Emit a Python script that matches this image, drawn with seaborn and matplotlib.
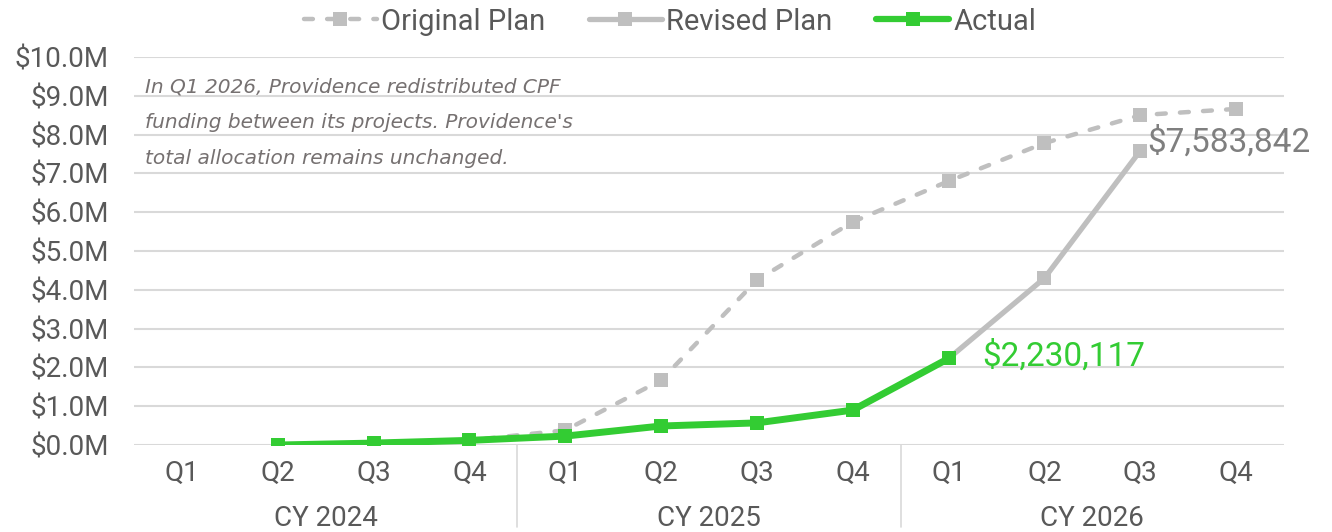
import matplotlib
matplotlib.use("Agg")
import matplotlib.pyplot as plt
import matplotlib.transforms as mtransforms
from matplotlib.lines import Line2D
import seaborn as sns
import pandas as pd
import numpy as np

# Data (values in $M)
quarters = ["Q1", "Q2", "Q3", "Q4"] * 3
years = ["CY 2024", "CY 2025", "CY 2026"]
original_plan = [np.nan, 0.0, 0.05, 0.12, 0.38, 1.67, 4.25, 5.75, 6.80, 7.78, 8.50, 8.66]
revised_plan = [np.nan, 0.0, 0.05, 0.12, 0.23, 0.49, 0.57, 0.90, 2.230117, 4.30, 7.583842, np.nan]
actual = [np.nan, 0.0, 0.05, 0.12, 0.23, 0.49, 0.57, 0.90, 2.230117, np.nan, np.nan, np.nan]

df = pd.DataFrame({
    "idx": np.arange(len(quarters)),
    "Original Plan": original_plan,
    "Revised Plan": revised_plan,
    "Actual": actual,
})

sns.set_theme(style="white")
plt.rcParams["font.family"] = ["Roboto", "DejaVu Sans"]

TXT = "#595959"
GRAY = "#BFBFBF"
GREEN = "#33CC33"
FS = 20

fig = plt.figure(figsize=(13.32, 5.32), dpi=100)
ax = fig.add_axes([0.1006, 0.1635, 0.8634, 0.7295])

sns.lineplot(data=df, x="idx", y="Original Plan", ax=ax, color=GRAY,
             marker="s", markersize=10.5, markeredgewidth=0, zorder=2)
ln = ax.lines[-1]
ln.set_linewidth(3.2)
ln.set_dashes([2.0, 3.2])
ln.set_dash_capstyle("round")
sns.lineplot(data=df, x="idx", y="Revised Plan", ax=ax, color=GRAY,
             marker="s", markersize=10.5, markeredgewidth=0, zorder=3)
ax.lines[-1].set_linewidth(3.8)
sns.lineplot(data=df, x="idx", y="Actual", ax=ax, color=GREEN,
             marker="s", markersize=10.5, markeredgewidth=0, zorder=4)
ax.lines[-1].set_linewidth(5)

ax.set_xlim(-0.5, len(quarters) - 0.5)
ax.set_ylim(0, 10)
ax.set_yticks(np.arange(0, 11, 1))
ax.set_yticklabels([f"${v:.1f}M" for v in range(11)], color=TXT, fontsize=FS)
ax.set_xticks(df["idx"])
ax.set_xticklabels(quarters, color=TXT, fontsize=FS)
ax.tick_params(axis="x", length=0, pad=11)
ax.tick_params(axis="y", length=0, pad=18)
ax.grid(axis="y", color="#D9D9D9", lw=1.5)
ax.set_axisbelow(True)
for s in ax.spines.values():
    s.set_visible(False)
ax.set_xlabel("")
ax.set_ylabel("")

# year group labels and separators
trans = mtransforms.blended_transform_factory(ax.transData, ax.transAxes)
for i, yr in enumerate(years):
    ax.text(i * 4 + 1.5, -0.19, yr, transform=trans, ha="center", va="center",
            color=TXT, fontsize=FS)
for x in [3.5, 7.5]:
    ax.add_line(Line2D([x, x], [0, -0.21], transform=trans, color="#D9D9D9",
                       lw=1.2, clip_on=False))

# data labels
ax.annotate("$2,230,117", (8, actual[8]), xytext=(24, -5), textcoords="offset points",
            ha="left", va="baseline", color=GREEN, fontsize=24)
ax.annotate("$7,583,842", (10, revised_plan[10]), xytext=(5, -1), textcoords="offset points",
            ha="left", va="baseline", color="#7F7F7F", fontsize=24)

ax.text(0.01, 0.725, "In Q1 2026, Providence redistributed CPF\n"
        "funding between its projects. Providence's\n"
        "total allocation remains unchanged.",
        transform=ax.transAxes, ha="left", va="baseline", style="italic",
        family="DejaVu Sans", color="#767171", fontsize=14.5, linespacing=2.1)

handles = [
    Line2D([], [], color=GRAY, lw=3.2, dashes=[2.0, 3.2], dash_capstyle="round",
           marker="s", markersize=10.5, markeredgewidth=0),
    Line2D([], [], color=GRAY, lw=3.8, marker="s", markersize=10.5, markeredgewidth=0),
    Line2D([], [], color=GREEN, lw=4.5, marker="s", markersize=10.5, markeredgewidth=0),
]
fig.legend(handles, ["Original Plan", "Revised Plan", "Actual"], loc="upper center",
           bbox_to_anchor=(0.503, 1.035), ncol=3, frameon=False, fontsize=21,
           labelcolor=TXT, handlelength=2.5, handletextpad=0.15, columnspacing=1.5)

fig.savefig("out.png", dpi=100)
